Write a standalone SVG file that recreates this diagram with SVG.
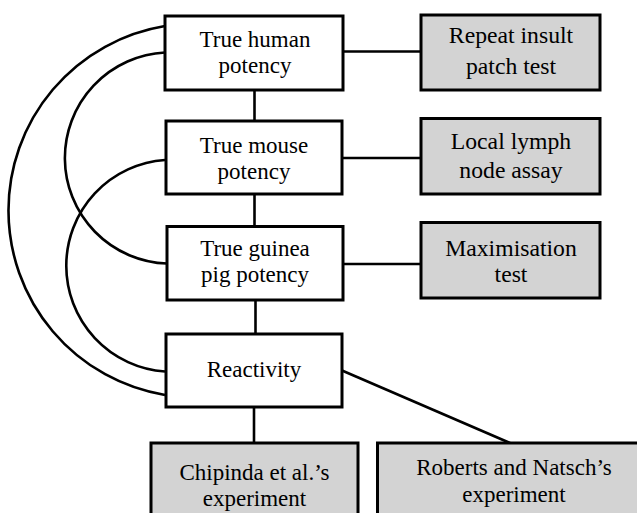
<svg xmlns="http://www.w3.org/2000/svg" width="637" height="513" viewBox="0 0 637 513">
<style>
.box{fill:#ffffff;stroke:#000;stroke-width:3}
.gray{fill:#d3d3d3;stroke:#000;stroke-width:3}
.t{font-family:"Liberation Serif","Times New Roman",serif;font-size:23px;fill:#000;text-anchor:middle}
.tg{font-family:"Liberation Serif","Times New Roman",serif;font-size:23.7px;fill:#000;text-anchor:middle}
.c{fill:none;stroke:#000;stroke-width:2.6}
</style>
<rect width="637" height="513" fill="#ffffff"/>
<g id="connectors">
<path class="c" d="M165,26 A187,187 0 0 0 165,395"/>
<path class="c" d="M165,52.5 A105.6,105.6 0 0 0 167,263.5"/>
<path class="c" d="M165,160 A106,106 0 0 0 165,371.5"/>
<line class="c" x1="254.5" y1="90" x2="254.5" y2="121"/>
<line class="c" x1="254.5" y1="194" x2="254.5" y2="226.5"/>
<line class="c" x1="255.5" y1="300" x2="255.5" y2="334"/>
<line class="c" x1="254" y1="407" x2="254" y2="443"/>
<line class="c" x1="343" y1="51.5" x2="421" y2="51.5"/>
<line class="c" x1="342" y1="158" x2="421" y2="158"/>
<line class="c" x1="343" y1="264" x2="421" y2="264"/>
<line class="c" x1="342" y1="370.5" x2="510" y2="443"/>
</g>
<g id="human">
<rect class="box" x="165" y="16" width="178" height="74"/>
<text class="t" x="255" y="46.7">True human</text>
<text class="t" x="255" y="72.5">potency</text>
</g>
<g id="mouse">
<rect class="box" x="166" y="121" width="176" height="73"/>
<text class="t" x="254" y="153.3">True mouse</text>
<text class="t" x="254" y="178.5">potency</text>
</g>
<g id="guinea">
<rect class="box" x="167" y="226.5" width="176" height="73.5"/>
<text class="t" x="255" y="255.5">True guinea</text>
<text class="t" x="255" y="282">pig potency</text>
</g>
<g id="reactivity">
<rect class="box" x="166" y="334" width="176" height="73"/>
<text class="t" x="254" y="376.7">Reactivity</text>
</g>
<g id="rip">
<rect class="gray" x="421" y="15" width="179" height="75"/>
<text class="tg" x="511" y="43.3">Repeat insult</text>
<text class="tg" x="511" y="74">patch test</text>
</g>
<g id="llna">
<rect class="gray" x="421" y="118.5" width="179" height="75.5"/>
<text class="tg" x="511" y="149.3">Local lymph</text>
<text class="tg" x="511" y="178.3">node assay</text>
</g>
<g id="max">
<rect class="gray" x="421" y="222.5" width="179" height="75.5"/>
<text class="tg" x="511" y="255.5">Maximisation</text>
<text class="tg" x="511" y="281.5">test</text>
</g>
<g id="chipinda">
<rect class="gray" x="151" y="443" width="207" height="80"/>
<text class="t" x="254.5" y="480">Chipinda et al.’s</text>
<text class="t" x="254.5" y="506">experiment</text>
</g>
<g id="roberts">
<rect class="gray" x="377.5" y="443" width="272" height="80"/>
<text class="t" x="514" y="475">Roberts and Natsch’s</text>
<text class="t" x="514" y="501.7">experiment</text>
</g>
</svg>
